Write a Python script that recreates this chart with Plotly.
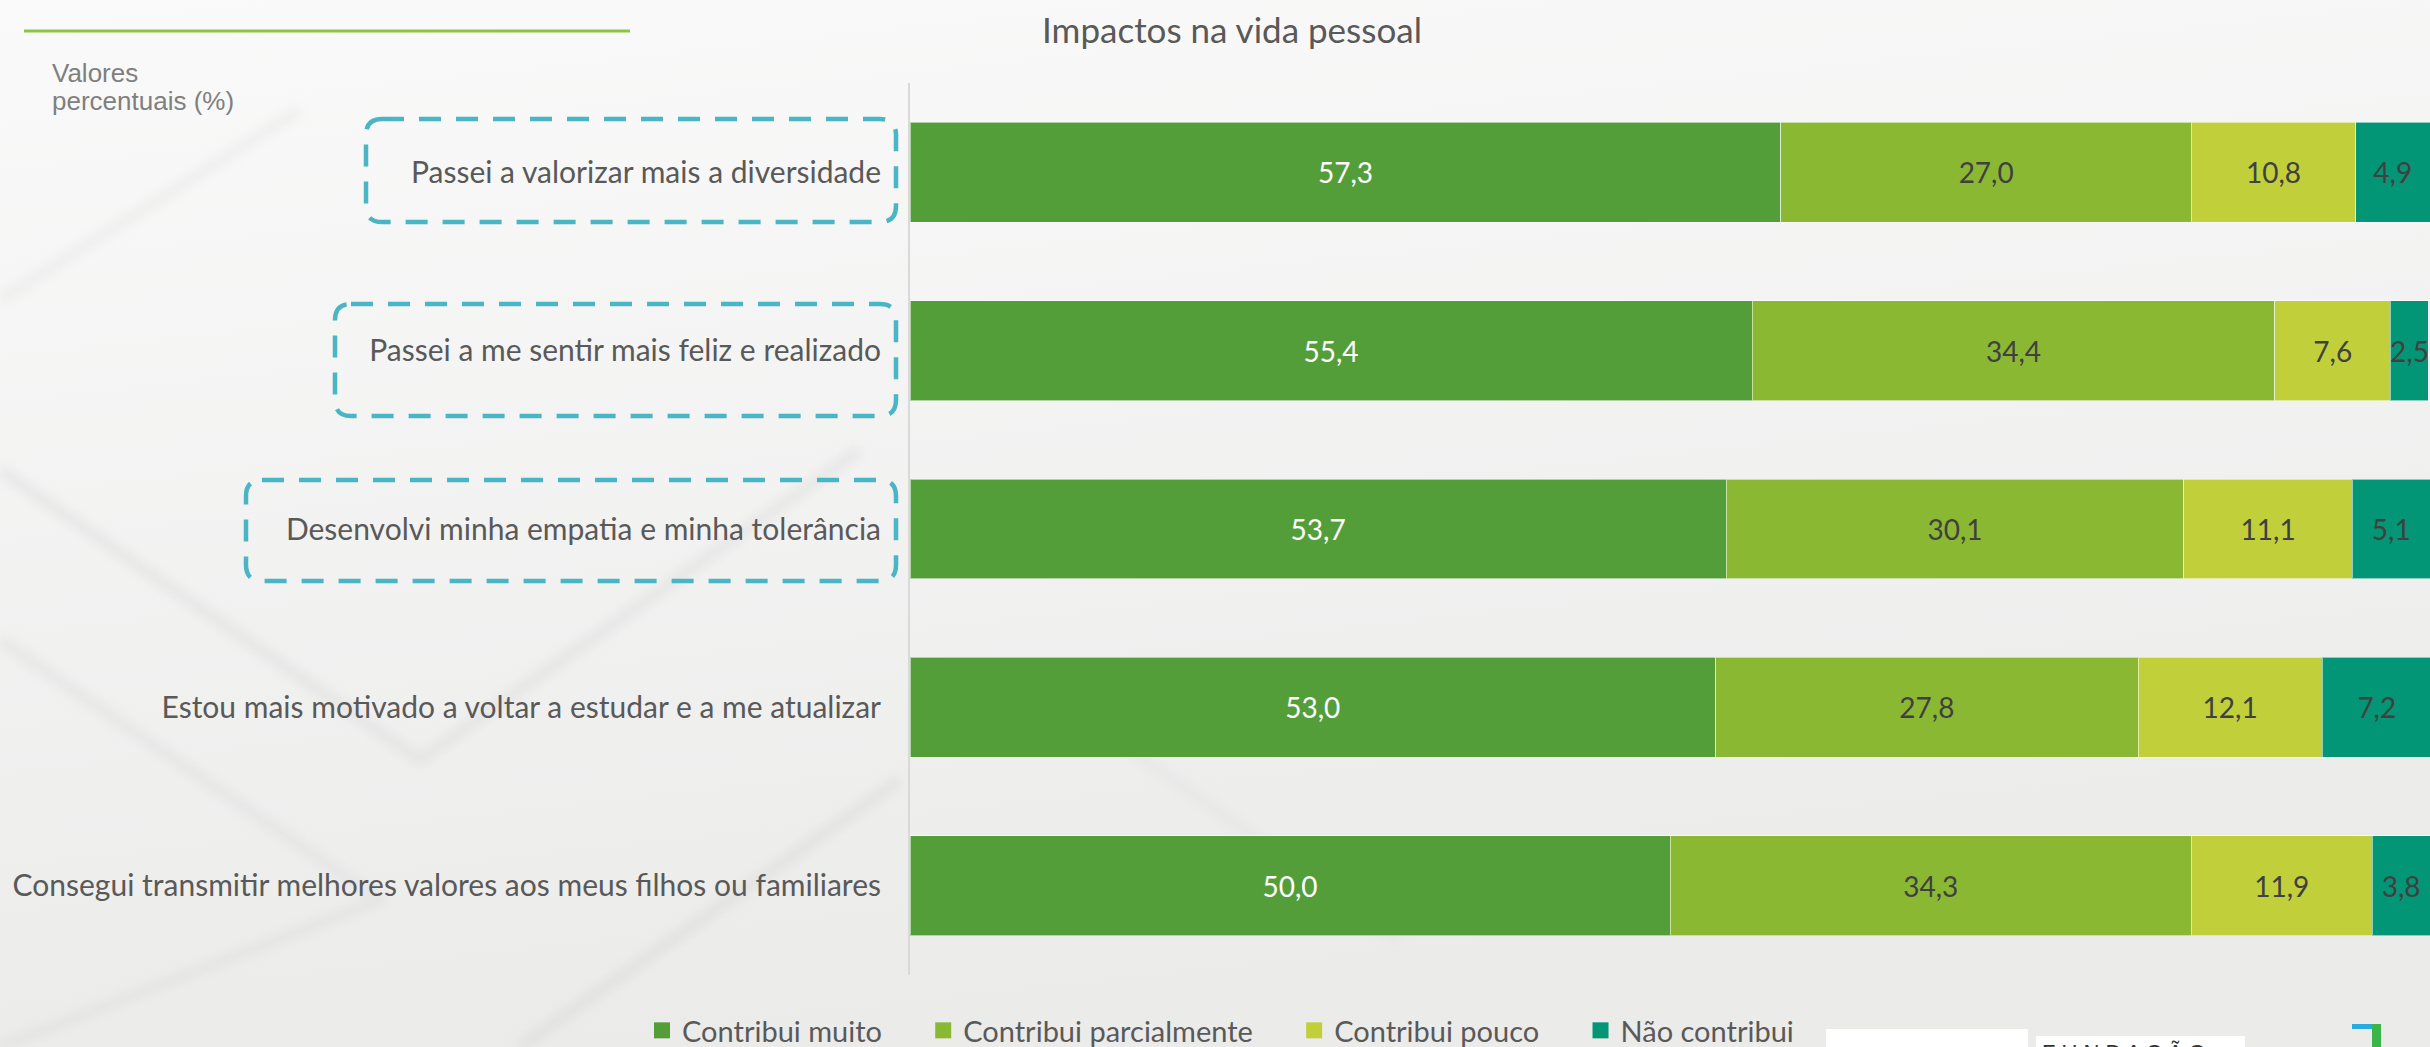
import base64
import plotly.graph_objects as go

# ---------------- data ----------------
categories = [
    "Passei a valorizar mais a diversidade",
    "Passei a me sentir mais feliz e realizado",
    "Desenvolvi minha empatia e minha tolerância",
    "Estou mais motivado a voltar a estudar e a me atualizar",
    "Consegui transmitir melhores valores aos meus filhos ou familiares",
]
series_names = ["Contribui muito", "Contribui parcialmente", "Contribui pouco", "Não contribui"]
contribui_muito = [57.3, 55.4, 53.7, 53.0, 50.0]
contribui_parcialmente = [27.0, 34.4, 30.1, 27.8, 34.3]
contribui_pouco = [10.8, 7.6, 11.1, 12.1, 11.9]
nao_contribui = [4.9, 2.5, 5.1, 7.2, 3.8]
series_values = [contribui_muito, contribui_parcialmente, contribui_pouco, nao_contribui]
highlighted = categories[:3]
title_text = "Impactos na vida pessoal"
unit_note_lines = ["Valores", "percentuais (%)"]
brand_text = "F U N D A Ç Ã O"

# ---------------- style ----------------
colors = ["#549E39", "#8AB833", "#C0CF3A", "#029676"]
text_colors = ["#FFFFFF", "#404040", "#404040", "#404040"]
FONT = "Lato, 'Open Sans', sans-serif"
ARIAL = "'Liberation Sans', Arial, sans-serif"
W, H = 2430, 1047
ML, MR, MT, MB = 910, 0, 83, 72
PW, PH = W - ML - MR, H - MT - MB
LEGEND_PAD = "\u2003\u2002"  # visual spacing after each legend entry


def px_x(px):
    return (px - ML) / PW


def px_y(py):
    return (H - MB - py) / PH


fig = go.Figure()
for name, vals, col, tcol in zip(series_names, series_values, colors, text_colors):
    fig.add_trace(go.Bar(
        y=categories, x=vals, name=name, orientation="h", legendgroup=name,
        showlegend=False,
        marker=dict(color=col, line=dict(color="rgba(255,255,255,0.55)", width=1)),
        texttemplate="%{x:.1f}", textposition="inside", insidetextanchor="middle",
        textangle=0, constraintext="none",
        textfont=dict(family=FONT, size=28, color=tcol),
        hoverinfo="skip",
    ))
# legend keys (square swatches, same colours / names as the bar series)
for name, col in zip(series_names, colors):
    fig.add_trace(go.Scatter(
        x=[None], y=[None], mode="markers", name=name + LEGEND_PAD, legendgroup=name,
        marker=dict(symbol="square", size=16, color=col), hoverinfo="skip",
    ))

# background (decorative)
svg = (
    f'<svg xmlns="http://www.w3.org/2000/svg" width="{W}" height="{H}">'
    '<defs><linearGradient id="g" x1="0" y1="0" x2="0.25" y2="1">'
    '<stop offset="0" stop-color="#fafafa"/><stop offset="1" stop-color="#ebebea"/>'
    '</linearGradient>'
    '<filter id="b"><feGaussianBlur stdDeviation="6"/></filter></defs>'
    f'<rect width="{W}" height="{H}" fill="url(#g)"/>'
    '<g filter="url(#b)" stroke-width="10" fill="none" opacity="0.6">'
    '<path d="M0,470 L420,760 L860,450" stroke="#dcdcdc"/>'
    '<path d="M0,640 L380,900 L0,1047" stroke="#dedede"/>'
    '<path d="M520,1047 L900,780" stroke="#d8d8d8"/>'
    '<path d="M1060,700 L1400,940" stroke="#e2e2e2"/>'
    '<path d="M0,300 L300,110" stroke="#e6e6e6"/>'
    '</g></svg>'
)
bg_src = "data:image/svg+xml;base64," + base64.b64encode(svg.encode()).decode()

shapes = []
# dashed rounded boxes around highlighted labels (pixel boxes)
box_px = {
    categories[0]: (366, 119, 896, 222),
    categories[1]: (335, 304, 896, 416),
    categories[2]: (246, 480, 896, 581),
}


def rrect_path(x0, y0, x1, y1, r):
    def P(x, y):
        return f"{px_x(x):.5f},{px_y(y):.5f}"
    return (f"M {P(x0 + r, y0)} L {P(x1 - r, y0)} Q {P(x1, y0)} {P(x1, y0 + r)} "
            f"L {P(x1, y1 - r)} Q {P(x1, y1)} {P(x1 - r, y1)} "
            f"L {P(x0 + r, y1)} Q {P(x0, y1)} {P(x0, y1 - r)} "
            f"L {P(x0, y0 + r)} Q {P(x0, y0)} {P(x0 + r, y0)} Z")


for cat in highlighted:
    x0, y0, x1, y1 = box_px[cat]
    shapes.append(dict(type="path", xref="paper", yref="paper",
                       path=rrect_path(x0, y0, x1, y1, 16),
                       line=dict(color="#4AB5C4", width=4.5, dash="22px,15px"),
                       fillcolor="rgba(0,0,0,0)", layer="above"))

# top-left green rule
shapes.append(dict(type="line", xref="paper", yref="paper",
                   x0=px_x(24), x1=px_x(630), y0=px_y(31), y1=px_y(31),
                   line=dict(color="#8CC63F", width=3)))

# logo fragments bottom right
shapes.append(dict(type="rect", xref="paper", yref="paper",
                   x0=px_x(1826), x1=px_x(2028), y0=px_y(1029), y1=px_y(1060),
                   fillcolor="#FFFFFF", line=dict(width=0)))
shapes.append(dict(type="rect", xref="paper", yref="paper",
                   x0=px_x(2036), x1=px_x(2245), y0=px_y(1036), y1=px_y(1060),
                   fillcolor="#FFFFFF", line=dict(width=0)))
shapes.append(dict(type="rect", xref="paper", yref="paper",
                   x0=px_x(2352), x1=px_x(2378), y0=px_y(1024), y1=px_y(1029),
                   fillcolor="#29ABE2", line=dict(width=0)))
shapes.append(dict(type="rect", xref="paper", yref="paper",
                   x0=px_x(2372), x1=px_x(2381), y0=px_y(1024), y1=px_y(1060),
                   fillcolor="#39B54A", line=dict(width=0)))

annotations = [
    dict(text=unit_note_lines[0], xref="paper", yref="paper", x=px_x(50), y=px_y(73),
         xanchor="left", yanchor="middle", showarrow=False,
         font=dict(family=ARIAL, size=26, color="#7F7F7F")),
    dict(text=unit_note_lines[1], xref="paper", yref="paper", x=px_x(50), y=px_y(101),
         xanchor="left", yanchor="middle", showarrow=False,
         font=dict(family=ARIAL, size=26, color="#7F7F7F")),
    dict(text=brand_text, xref="paper", yref="paper", x=px_x(2040), y=px_y(1038),
         xanchor="left", yanchor="top", showarrow=False,
         font=dict(family=ARIAL, size=22, color="#333333")),
]

fig.update_layout(
    width=W, height=H,
    margin=dict(l=ML, r=MR, t=MT, b=MB, autoexpand=False),
    barmode="stack", bargap=0.44,
    separators=",.",
    paper_bgcolor="#f2f2f2",
    plot_bgcolor="rgba(255,255,255,0.45)",
    title=dict(text=title_text, xref="container", yref="container",
               x=1232 / W, xanchor="center", y=1 - 31 / H, yanchor="middle",
               font=dict(family=FONT, size=35, color="#595959")),
    xaxis=dict(range=[0, 100], visible=False, fixedrange=True),
    yaxis=dict(autorange="reversed", showline=True, linecolor="#D9D9D9", linewidth=2,
               ticks="", ticklabelstandoff=21, showgrid=False, zeroline=False,
               tickfont=dict(family=FONT, size=30, color="#595959")),
    legend=dict(orientation="h", x=px_x(642), xanchor="left", y=px_y(1005), yanchor="top",
                font=dict(family=FONT, size=29, color="#595959"),
                bgcolor="rgba(0,0,0,0)", traceorder="normal", itemsizing="trace"),
    uniformtext=dict(minsize=28, mode="show"),
    shapes=shapes,
    annotations=annotations,
    images=[dict(source=bg_src, xref="paper", yref="paper", x=px_x(0), y=px_y(0),
                 sizex=W / PW, sizey=H / PH, xanchor="left", yanchor="top",
                 sizing="stretch", layer="below")],
)

fig.write_html(
    "out.html",
    config={"displayModeBar": False},
    post_script="document.body.style.margin='0';document.body.style.overflow='hidden';"
                "document.body.style.background='#f2f2f2';",
)
